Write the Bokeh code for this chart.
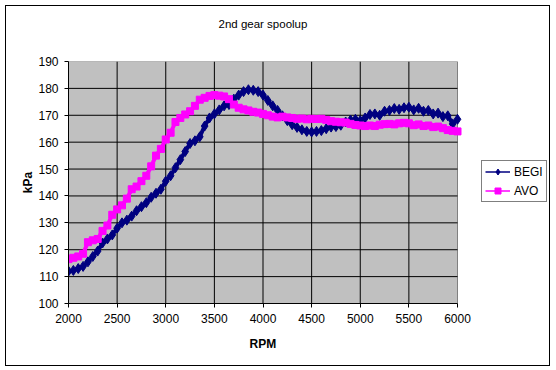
from bokeh.plotting import figure
from bokeh.models import Range1d, Legend, LegendItem, FixedTicker, Title
from bokeh.embed import file_html
from bokeh.resources import INLINE

# ---- data ----
rpm = list(range(2000, 6001, 50))

begi = [
    112.0, 112.3, 113.0, 113.8, 115.5, 117.5, 119.5, 122.5, 124.0, 125.5,   # 2000-2450
    128.0, 130.0, 131.0, 132.5, 134.5, 136.0, 137.5, 139.5, 141.0, 142.5,   # 2500-2950
    145.5, 147.5, 150.5, 153.5, 156.5, 159.5, 160.5, 162.0, 166.0, 169.0,   # 3000-3450
    170.5, 172.0, 173.5, 174.0, 176.0, 177.5, 178.8, 179.5, 179.3, 178.8,   # 3500-3950
    177.5, 175.5, 173.5, 171.8, 169.8, 168.0, 166.5, 165.5, 164.6, 164.0,   # 4000-4450
    163.8, 164.0, 164.3, 165.0, 165.6, 165.8, 166.3, 167.5, 168.2, 168.5,   # 4500-4950
    168.0, 169.0, 170.3, 170.5, 170.0, 171.5, 171.8, 172.5, 172.2, 172.8,   # 5000-5450
    173.0, 172.0, 172.6, 171.5, 171.8, 170.5, 170.8, 169.5, 169.8, 166.8,   # 5500-5950
    168.5,                                                                  # 6000
]

avo = [
    116.5, 117.0, 117.5, 118.5, 122.8, 123.5, 124.0, 127.0, 129.0, 133.0,   # 2000-2450
    135.0, 136.5, 139.0, 142.5, 143.5, 145.5, 147.5, 151.0, 155.0, 157.5,   # 2500-2950
    161.0, 163.5, 167.5, 169.0, 170.3, 171.5, 173.5, 175.8, 176.5, 177.2,   # 3000-3450
    177.5, 177.3, 177.0, 176.0, 174.0, 172.8, 172.2, 171.8, 171.3, 171.0,   # 3500-3950
    170.5, 170.0, 169.5, 169.2, 169.5, 169.2, 169.0, 168.7, 168.8, 168.5,   # 4000-4450
    168.7, 168.6, 168.7, 168.3, 167.8, 167.6, 167.4, 167.3, 166.8, 166.4,   # 4500-4950
    166.2, 166.0, 166.2, 166.0, 166.5, 166.7, 166.8, 166.6, 167.0, 167.2,   # 5000-5450
    167.0, 166.3, 166.6, 166.0, 166.2, 165.6, 165.8, 165.2, 164.5, 164.2,   # 5500-5950
    164.0,                                                                  # 6000
]

x_ticks = [2000, 2500, 3000, 3500, 4000, 4500, 5000, 5500, 6000]
y_ticks = [100, 110, 120, 130, 140, 150, 160, 170, 180, 190]

FONT = "Liberation Sans"

# layout (pixels): plot area 389 x 242; the frame is widened to the right
# so that the legend (drawn inside the frame) is not clipped
AREA_W, AREA_H = 389, 242
FRAME_W = 480
x_lo, x_hi = x_ticks[0], x_ticks[-1]
y_lo, y_hi = y_ticks[0], y_ticks[-1]
x_end = x_lo + FRAME_W * (x_hi - x_lo) / AREA_W

p = figure(
    width=543, height=359,
    output_backend="svg", toolbar_location=None,
    x_range=Range1d(x_lo, x_end), y_range=Range1d(y_lo, y_hi),
    min_border_left=62, min_border_right=1, min_border_top=55, min_border_bottom=62,
    background_fill_color="white", border_fill_color="white",
    outline_line_color=None,
    title_location=None,
)
p.styles = {"margin-left": "6px", "margin-top": "6px",
            "box-shadow": "0 0 0 1px black"}

# spacer (closest to the frame) then the real title above it
p.add_layout(Title(text=" ", text_font=FONT, text_font_size="11.5px", standoff=18), "above")
p.add_layout(Title(text="2nd gear spoolup", align="left", offset=150, standoff=0,
                   text_font=FONT, text_font_size="11.5px", text_font_style="normal",
                   text_color="black"), "above")

# gray plot area with gray border
p.quad(left=[x_lo], right=[x_hi], bottom=[y_lo], top=[y_hi],
       fill_color="#C0C0C0", line_color="#808080", line_width=1, level="image")

# black grid lines (interior ticks)
p.grid.visible = False
gx = x_ticks[1:-1]
gy = y_ticks[1:-1]
p.segment(x0=gx, y0=[y_lo] * len(gx), x1=gx, y1=[y_hi] * len(gx),
          line_color="black", line_width=1, level="underlay")
p.segment(x0=[x_lo] * len(gy), y0=gy, x1=[x_hi] * len(gy), y1=gy,
          line_color="black", line_width=1, level="underlay")

for ax, ticks in ((p.xaxis[0], x_ticks), (p.yaxis[0], y_ticks)):
    ax.ticker = FixedTicker(ticks=ticks)
    ax.bounds = (ticks[0], ticks[-1])
    ax.axis_label_text_font = FONT
    ax.axis_label_text_font_size = "12px"
    ax.axis_label_text_font_style = "bold"
    ax.axis_label_text_color = "black"
    ax.major_label_text_font = FONT
    ax.major_label_text_font_size = "12px"
    ax.major_label_text_color = "black"
    ax.axis_line_color = "black"
    ax.major_tick_line_color = "black"
    ax.major_tick_in = 0
    ax.major_tick_out = 4
    ax.minor_tick_line_color = None

p.yaxis[0].axis_label = "kPa"
p.xaxis[0].major_label_standoff = 6
p.yaxis[0].major_label_standoff = 6
p.yaxis[0].axis_label_standoff = 0
p.yaxis[0].major_label_orientation = "horizontal"

# x-axis title centred under the plot area
p.add_layout(Title(text="RPM", align="left", offset=181, vertical_align="top", standoff=22,
                   text_font=FONT, text_font_size="12px", text_font_style="bold",
                   text_color="black"), "below")

# thick underlay lines so the dense marker bands look continuous
p.line(rpm, begi, line_color="#000080", line_width=4)
l1 = p.line(rpm, begi, line_color="#000080", line_width=1.5)
s1 = p.scatter(rpm, begi, marker="diamond", size=10, fill_color="#000080", line_color="#000080")
p.line(rpm, avo, line_color="#FF00FF", line_width=4)
l2 = p.line(rpm, avo, line_color="#FF00FF", line_width=1.5)
s2 = p.scatter(rpm, avo, marker="square", size=7, fill_color="#FF00FF", line_color="#FF00FF")

legend = Legend(
    items=[LegendItem(label="BEGI", renderers=[l1, s1]),
           LegendItem(label="AVO", renderers=[l2, s2])],
    location=(413, 101),
    border_line_color="black", border_line_width=1,
    background_fill_color="white", background_fill_alpha=1,
    label_text_font=FONT, label_text_font_size="12px", label_text_color="black",
    glyph_width=25, glyph_height=15, label_height=15,
    spacing=4, padding=3, margin=0, label_standoff=4,
)
p.add_layout(legend, "center")

open("out.html", "w").write(file_html(p, INLINE))
